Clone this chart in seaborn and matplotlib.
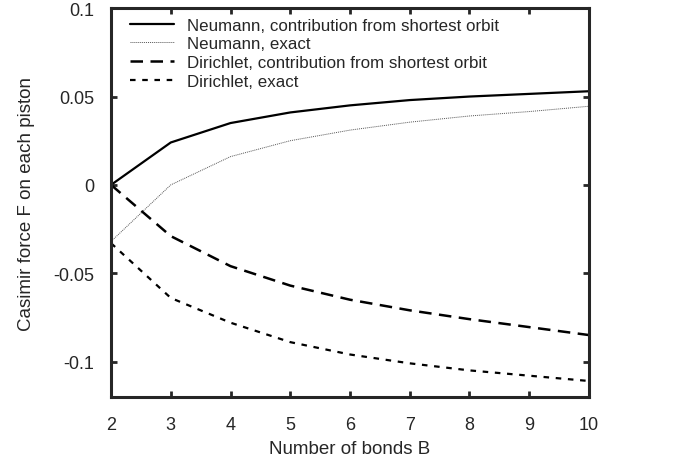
import matplotlib
matplotlib.use("Agg")
import matplotlib.pyplot as plt
import seaborn as sns
import pandas as pd

bonds = [2, 3, 4, 5, 6, 7, 8, 9, 10]
neumann_short = [0.0, 0.024, 0.035, 0.041, 0.045, 0.048, 0.050, 0.0515, 0.053]
neumann_exact = [-0.032, 0.0, 0.016, 0.025, 0.031, 0.0355, 0.039, 0.0415, 0.0445]
dirichlet_short = [0.0, -0.029, -0.046, -0.057, -0.065, -0.071, -0.076, -0.0805, -0.085]
dirichlet_exact = [-0.033, -0.064, -0.078, -0.089, -0.096, -0.101, -0.105, -0.108, -0.111]

labels = ["Neumann, contribution from shortest orbit", "Neumann, exact",
          "Dirichlet, contribution from shortest orbit", "Dirichlet, exact"]
xticks = [2, 3, 4, 5, 6, 7, 8, 9, 10]
yticks = [-0.1, -0.05, 0, 0.05, 0.1]
ytick_labels = ["-0.1", "-0.05", "0", "0.05", "0.1"]

sns.set_style("ticks")
plt.rcParams['font.family'] = ['Liberation Sans', 'DejaVu Sans']
plt.rcParams['axes.unicode_minus'] = False

fig = plt.figure(figsize=(6.77, 4.6), dpi=100)
ax = fig.add_axes([0.164, 0.135, 0.706, 0.845])

series = [neumann_short, neumann_exact, dirichlet_short, dirichlet_exact]
styles = [
    dict(color="black", lw=1.6, ls="-"),
    dict(color="#555555", lw=0.7, ls=(0, (1, 1))),
    dict(color="black", lw=1.8, ls=(0, (5, 3))),
    dict(color="black", lw=1.6, ls=(0, (2.5, 3))),
]
for vals, lab, st in zip(series, labels, styles):
    df = pd.DataFrame({"B": bonds, "F": vals})
    sns.lineplot(data=df, x="B", y="F", ax=ax, label=lab,
                 color=st["color"], linewidth=st["lw"], linestyle=st["ls"])

ax.set_xlim(2, 10)
ax.set_ylim(-0.12, 0.1)
ax.set_xticks(xticks)
ax.set_xticklabels([str(v) for v in xticks])
ax.set_yticks(yticks)
ax.set_yticklabels(ytick_labels)
ax.tick_params(axis="both", direction="in", length=4, width=2.0, top=True, right=True,
               labelsize=13)
ax.tick_params(axis="x", pad=14)
ax.tick_params(axis="y", pad=12)
for s in ax.spines.values():
    s.set_linewidth(2.2)
    s.set_visible(True)
ax.set_xlabel("Number of bonds B", fontsize=13.5, labelpad=5)
ax.set_ylabel("Casimir force F on each piston", fontsize=13.5, labelpad=13)

leg = ax.legend(loc="upper left", frameon=False, fontsize=12.2, handlelength=2.6,
                handletextpad=0.75, borderaxespad=0.15, labelspacing=0.22,
                bbox_to_anchor=(0.02, 1.0))

fig.savefig("out.png", dpi=100)
